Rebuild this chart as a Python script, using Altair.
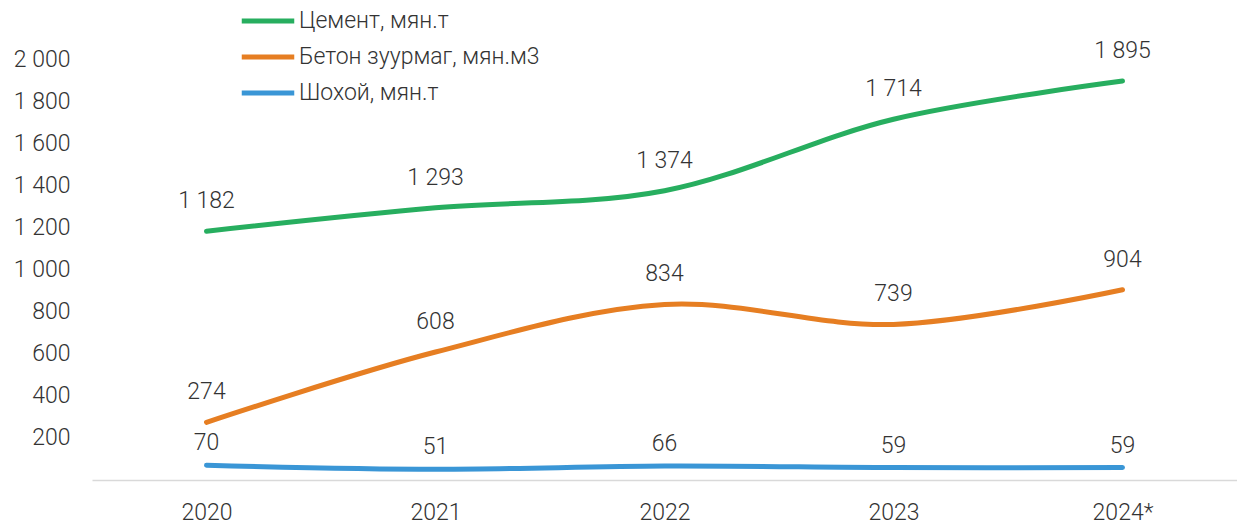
import altair as alt
import pandas as pd

years = ["2020", "2021", "2022", "2023", "2024*"]
series_names = ["Цемент, мян.т", "Бетон зуурмаг, мян.м3", "Шохой, мян.т"]
cement = [1182, 1293, 1374, 1714, 1895]
concrete = [274, 608, 834, 739, 904]
lime = [70, 51, 66, 59, 59]
colors = ["#27AE5F", "#E67E22", "#3A96D6"]
y_ticks = [200, 400, 600, 800, 1000, 1200, 1400, 1600, 1800, 2000]

rows = []
for name, vals in zip(series_names, [cement, concrete, lime]):
    for yr, v in zip(years, vals):
        rows.append({"year": yr, "series": name, "value": v})
df = pd.DataFrame(rows)

FONT = "Roboto"
TXT = "#333333"
FS = 23

base = alt.Chart(df).encode(
    x=alt.X("year:N", sort=years,
            scale=alt.Scale(type="point", padding=0.5),
            axis=alt.Axis(title=None, labelAngle=0, ticks=False, grid=False,
                          domainColor="#d9d9d9", domainWidth=1.5,
                          labelFont=FONT, labelFontWeight=300, labelFontSize=FS,
                          labelColor=TXT, labelPadding=21)),
    y=alt.Y("value:Q",
            scale=alt.Scale(domain=[0, 2000], nice=False, zero=True),
            axis=alt.Axis(title=None, values=y_ticks, ticks=False, grid=False,
                          domain=False, labelFont=FONT, labelFontWeight=300,
                          labelFontSize=FS, labelColor=TXT, labelPadding=22,
                          labelExpr="replace(format(datum.value, ','), ',', ' ')")),
)

lines = base.mark_line(strokeWidth=5, interpolate="catmull-rom", strokeCap="round").encode(
    color=alt.Color("series:N", sort=series_names,
                    scale=alt.Scale(domain=series_names, range=colors),
                    legend=alt.Legend(title=None, orient="none", legendX=163, legendY=-51,
                                      symbolType="M-2.5,0H2.5", symbolSize=441,
                                      symbolStrokeWidth=5, labelOffset=18,
                                      labelFont=FONT, labelFontWeight=300, labelFontSize=FS,
                                      labelColor=TXT, labelLimit=400, rowPadding=11, padding=0,
                                      direction="vertical"))
)

fmt = "replace(format(datum.value, ','), ',', ' ')"
labels_big = base.transform_filter(
    alt.FieldOneOfPredicate(field="series", oneOf=series_names[:2])
).transform_calculate(lbl=fmt).mark_text(
    dy=-30, font=FONT, fontWeight=300, fontSize=FS, color=TXT
).encode(text="lbl:N")

labels_small = base.transform_filter(
    alt.FieldEqualPredicate(field="series", equal=series_names[2])
).transform_calculate(lbl=fmt).mark_text(
    dy=-22, font=FONT, fontWeight=300, fontSize=FS, color=TXT
).encode(text="lbl:N")

chart = alt.layer(lines, labels_big, labels_small).properties(
    width=1145, height=421,
    autosize=alt.AutoSizeParams(type="none"),
    padding={"left": 84, "top": 51, "right": 0, "bottom": 44},
).configure_view(stroke=None).configure_legend(symbolStrokeColor=None)

chart.save("out.html", embed_options={"renderer": "svg", "actions": False})
